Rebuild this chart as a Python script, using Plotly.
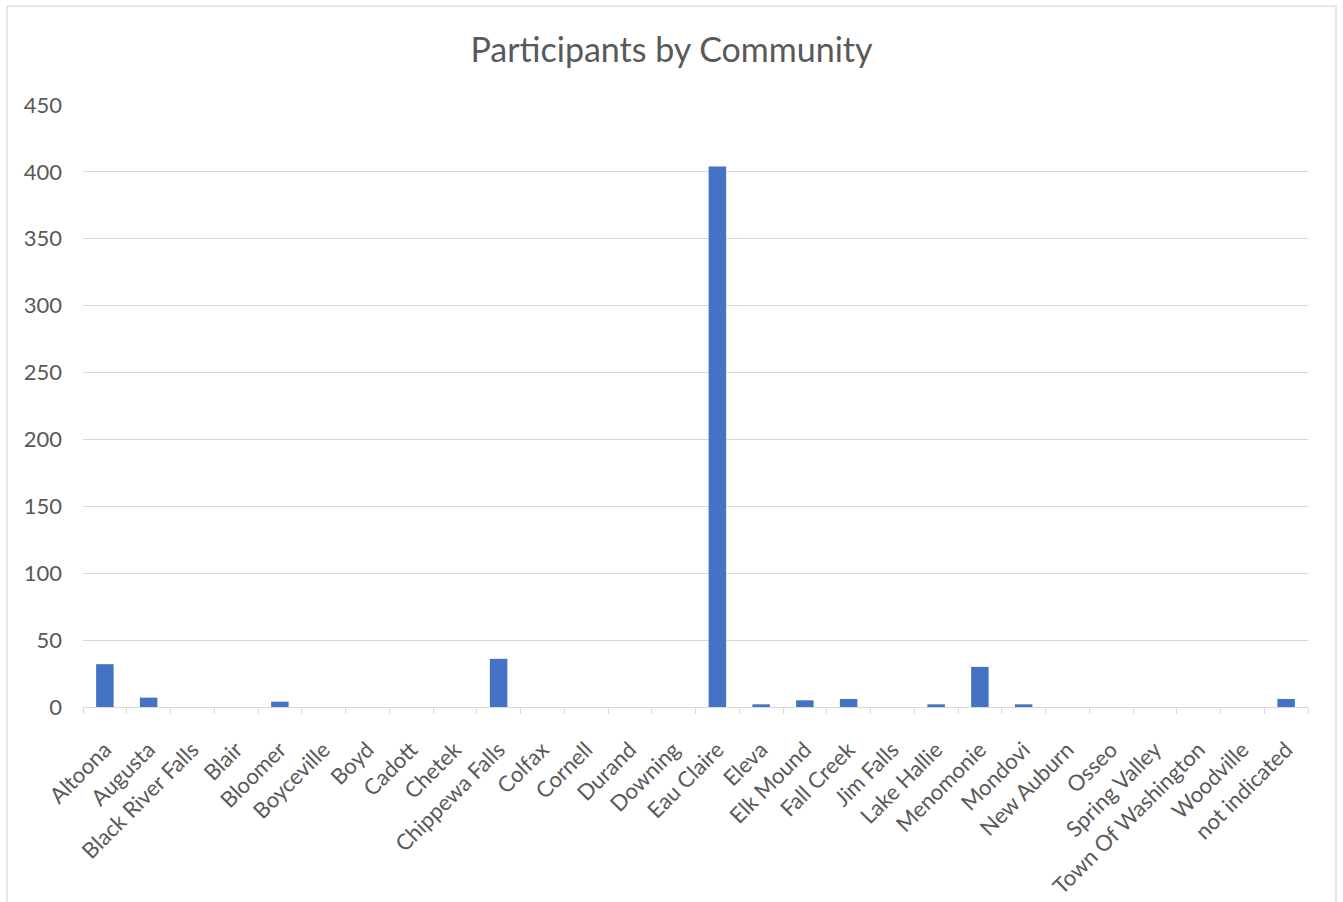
import plotly.graph_objects as go

communities = ["Altoona", "Augusta", "Black River Falls", "Blair", "Bloomer", "Boyceville",
               "Boyd", "Cadott", "Chetek", "Chippewa Falls", "Colfax", "Cornell", "Durand",
               "Downing", "Eau Claire", "Eleva", "Elk Mound", "Fall Creek", "Jim Falls",
               "Lake Hallie", "Menomonie", "Mondovi", "New Auburn", "Osseo", "Spring Valley",
               "Town Of Washington", "Woodville", "not indicated"]
participants = [32, 7, 0, 0, 4, 0,
                0, 0, 0, 36, 0, 0, 0,
                0, 404, 2, 5, 6, 0,
                2, 30, 2, 0, 0, 0,
                0, 0, 6]
y_ticks = [0, 50, 100, 150, 200, 250, 300, 350, 400, 450]

W, H = 1343, 902
L, R, T, B = 83, 35, 105, 194.5
pw, ph = W - L - R, H - T - B

def px(x):
    return (x - L) / pw

def py(y):
    return (H - B - y) / ph

font_family = "Lato, 'Open Sans', sans-serif"
grey = "#595959"
line = "#d9d9d9"

fig = go.Figure(go.Bar(x=communities, y=participants, marker_color="#4472c4",
                       marker_line_width=0, width=0.4))

fig.update_layout(
    width=W, height=H,
    margin=dict(l=L, r=R, t=T, b=B, pad=0, autoexpand=False),
    paper_bgcolor="white", plot_bgcolor="white",
    font=dict(family=font_family, color=grey, size=22),
    title=dict(text="Participants by Community", x=0.5, xref="container", xanchor="center",
               y=1 - 50 / H, yref="container", yanchor="middle",
               font=dict(size=34, color=grey, family=font_family)),
    showlegend=False,
    bargap=0.6,
    xaxis=dict(showgrid=False, showline=True, linecolor=line, linewidth=1.3, automargin=False,
               ticks="outside", tickson="boundaries", ticklen=6, tickcolor=line, tickwidth=1.3,
               tickangle=-45, tickfont=dict(size=22, color=grey), ticklabelstandoff=20),
    yaxis=dict(range=[0, 450], tickvals=y_ticks, showgrid=True, gridcolor=line, gridwidth=1.3,
               automargin=False,
               zeroline=False, showline=False, ticks="", tickfont=dict(size=22, color=grey),
               ticklabelstandoff=20),
    shapes=[dict(type="rect", xref="paper", yref="paper",
                 x0=px(7), x1=px(1336), y0=py(920), y1=py(6),
                 line=dict(color=line, width=1.3), fillcolor="rgba(0,0,0,0)", layer="below")],
)

fig.write_html("out.html")
